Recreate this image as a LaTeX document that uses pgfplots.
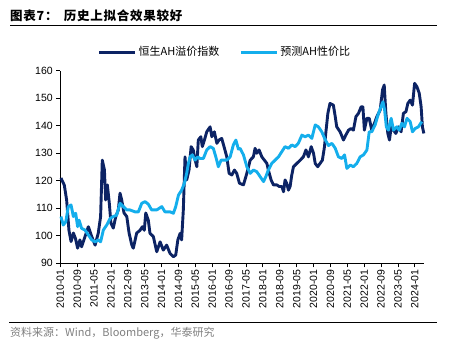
\documentclass[border=0pt]{standalone}
\usepackage{pgfplots}
\pgfplotsset{compat=1.18}
\usepackage{fontspec}
\setmainfont{Liberation Sans}
\newfontfamily\cjk{Noto Sans CJK SC}
\newfontfamily\cjkt{Noto Sans CJK SC}[LetterSpace=6]
\definecolor{navy}{RGB}{12,35,100}
\definecolor{sky}{RGB}{20,174,236}
\definecolor{srcgrey}{RGB}{128,128,128}
\begin{document}
\begin{tikzpicture}
\path[use as bounding box] (0,0) rectangle (458pt,357pt);
\node[anchor=west,inner sep=0pt] at (10pt,341pt) {\cjkt\bfseries\fontsize{12.5}{14}\selectfont 图表7：\hspace{0.5em}历史上拟合效果较好};
\draw[line width=0.9pt] (10pt,332pt) -- (437pt,332pt);
\draw[line width=0.9pt] (9pt,34.3pt) -- (437pt,34.3pt);
\node[anchor=west,inner sep=0pt,text=srcgrey] at (10pt,24pt) {\cjk\fontsize{11}{12}\selectfont 资料来源：Wind，Bloomberg，华泰研究};
\begin{axis}[
  at={(60.3pt,93.7pt)}, anchor=south west,
  scale only axis, width=364pt, height=192.6pt,
  xmin=0, xmax=172.5, ymin=90, ymax=160,
  axis x line*=bottom, axis y line*=left,
  axis line style={line width=0.8pt,-},
  tick align=outside,
  major tick length=4pt,
  tick style={black,line width=0.8pt},
  xtick={0,8,...,168},
  xticklabels={2010-01,2010-09,2011-05,2012-01,2012-09,2013-05,2014-01,2014-09,2015-05,2016-01,2016-09,2017-05,2018-01,2018-09,2019-05,2020-01,2020-09,2021-05,2022-01,2022-09,2023-05,2024-01},
  xticklabel style={rotate=90,anchor=east,font=\fontsize{10.5}{12}\selectfont,inner sep=2pt},
  ytick={90,100,...,160},
  yticklabel style={font=\fontsize{10.5}{12}\selectfont},
  /pgf/number format/assume math mode=true,
  legend columns=2,
  legend style={draw=none,fill=none,at={(0.452,1.097)},anchor=center,
    font=\cjk\fontsize{11}{12}\selectfont,
    /tikz/every even column/.append style={column sep=18pt},
    inner sep=0pt},
  legend image code/.code={\draw[#1,line width=3pt] (0pt,0pt) -- (36pt,0pt);},
  clip=false,
]
\addplot[navy,line width=2.9pt,line join=round] coordinates {
(0.3,121)(1.9,118.4)(3.0,113)(4.1,102)(5.1,97.9)(6.2,101)(7.2,99)(8.2,95.5)(9.3,98.5)(10.1,96)
(11.7,99.7)(13.3,103.3)(14.9,99.7)(16.5,96.6)(18.0,101)(19.1,107)(19.9,127.5)(20.9,124)(21.5,113)(22.3,118.5)
(23.2,112)(24.0,104.6)(25.1,102.8)(26.3,107)(27.5,109.4)(28.3,115.5)(29.1,113)(30.2,108.3)(31.5,107)(32.6,101)
(33.9,96.6)(34.6,95.5)(36.2,101)(37.8,102)(38.9,103.3)(39.8,102)(40.5,108.3)(41.7,105.7)(42.5,100.9)(44.1,99.7)
(45.7,94.2)(47.3,97.8)(48.8,94.8)(50.4,96.6)(52,93.6)(53.6,92.4)(54.7,93)(55.7,98.5)(56.8,100.9)(57.5,98.5)
(58.3,109.4)(59.1,128.7)(59.9,120.3)(61,123.9)(62,132.4)(63,131.2)(63.9,127.5)(64.7,125.1)(65.4,134.8)(66.6,136)
(67.3,132.4)(68.3,134.8)(69.4,137.8)(71,139.6)(71.8,136)(73,137.8)(74.2,133.6)(75.2,134.8)(76.5,135.4)(77.8,131.8)
(78.9,128.7)(80,122.7)(81.3,122.1)(82.5,123.9)(83.6,122.7)(84.9,119.1)(86.8,118.5)(88.4,122.7)(90,127.5)(91.5,128.7)
(92.3,131.8)(93.1,130)(94.2,131.2)(95.5,128.7)(96.7,127.5)(97.9,126.3)(98.6,123.9)(99.9,120.3)(101,118.5)(102.6,118.5)
(103.8,117.9)(105,117.9)(105.8,116)(106.5,120.3)(107.3,119.1)(108.1,116.6)(108.9,117.9)(109.7,122.1)(110.5,125.1)(112.1,126.3)
(113.7,127.5)(115.2,128.7)(116.4,131.2)(117.6,128.7)(118.9,132.4)(120,130)(120.8,126.3)(122,125.1)(123.1,126.3)(124.2,127.5)
(125.2,132.4)(125.8,137.2)(126.8,144.5)(127.8,148.1)(129.4,147.5)(130.3,143.3)(131,139.6)(132.6,137.8)(134.2,134.8)(135.3,136.6)
(136.6,138.4)(137.8,139)(138.9,138.4)(140.1,143.3)(141.3,144.5)(142.6,146.9)(143.4,146.9)(144.1,138.4)(145.3,142.7)(146.4,142.7)
(147.6,138.4)(148.9,140.9)(150,143.3)(151.6,145.7)(152.7,153)(153.5,154.8)(154.3,144.5)(155.2,137.2)(156,134.8)(156.8,139.6)
(157.9,138.4)(159,137.2)(160.3,139.6)(161.5,137.8)(162.6,144.5)(163.8,145.1)(164.7,148.1)(165.8,149.3)(166.9,147.5)(167.9,155.4)
(169,154.2)(170.1,151.8)(171,146.9)(171.6,139.6)(172.3,137.2)
};
\addlegendentry{恒生AH溢价指数}
\addplot[sky,line width=2.9pt,line join=round] coordinates {
(0.3,107)(1.4,103.9)(2.6,105.1)(3.8,110.6)(5.1,111.2)(6.2,107)(7.3,108.2)(8.2,103.3)(8.9,105.7)(10.1,102.7)
(11.7,102.1)(13.3,100.3)(14.9,98.5)(16.5,97.8)(18,98.5)(19.1,97.8)(20.4,102.1)(22,103.9)(23.6,106.3)(25.1,107)
(26.7,107.5)(28.3,111.8)(29.9,110.6)(31.5,109.4)(33,109.4)(35.4,108.7)(37,108.7)(38.6,111.8)(40.2,112.4)(41.7,111.5)
(43.3,109.4)(45.7,109.4)(48.1,110.6)(49.6,108.7)(52,108.7)(53.6,108.2)(54.7,110.6)(56,114.8)(57.5,116.6)(58.8,119.1)
(59.9,122.7)(60.7,126.3)(61.5,128.7)(62.6,129.4)(63.9,127.5)(65.1,128.7)(66.2,128.1)(67.8,128.1)(69.4,131.2)(71,132.4)
(72.5,131.8)(73.7,128.7)(74.9,125.1)(76.2,127.5)(77.3,127.5)(78.9,127.5)(80.5,128.7)(82,133)(83.2,134.8)(84.4,131.5)
(85.2,131.8)(86.8,129.4)(88.4,125.1)(90,122.7)(91.5,123.9)(93.1,123.3)(94.7,121.5)(96.3,119.7)(97.4,121.5)(98.6,123.9)
(100.2,126.3)(101.8,127.5)(103.4,128.7)(105,130.6)(106.5,132.4)(108.1,131.8)(109.7,133)(111.3,132.4)(112.8,133.6)(114.5,136.6)
(116,136)(117.6,136.6)(119.2,135.4)(120.8,140.3)(122.3,139.6)(123.9,137.8)(125.5,135)(127.1,132.8)(128.7,133.6)(130.3,131.8)
(131.8,128.7)(133.4,128.1)(134.7,129.4)(135.8,124.5)(137.4,125.7)(138.9,125.1)(140.5,126.3)(142.1,128.7)(143.7,129.4)(145.3,131.2)
(146.4,137.8)(147.6,137.8)(149.2,140.3)(150.8,144.5)(152,146.9)(152.9,148.7)(153.7,145.7)(154.5,139.6)(155.5,138.4)(156.8,142.7)
(157.9,138.4)(159.5,139.6)(160.6,138.4)(161.9,140.9)(163.1,139.6)(164.3,142.7)(165.8,141.5)(166.9,137.8)(168.2,139)(169.7,139.6)
(171.3,141.5)
};
\addlegendentry{预测AH性价比}
\end{axis}
\end{tikzpicture}
\end{document}
